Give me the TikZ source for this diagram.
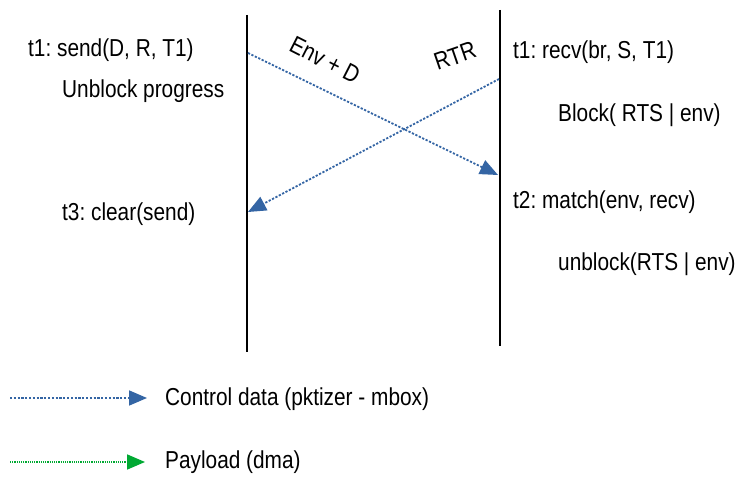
\documentclass[tikz,border=0pt]{standalone}
\usepackage{fontspec}
\setmainfont{Liberation Sans}[FakeStretch=0.85]
\usetikzlibrary{arrows.meta}
\definecolor{ctrlblue}{RGB}{52,101,164}
\definecolor{payloadgreen}{RGB}{0,169,51}
\frenchspacing
\begin{document}
\begin{tikzpicture}[x=1pt,y=-1pt,
  lbl/.style={anchor=base west,inner sep=0pt,font=\fontsize{24.5}{29}\selectfont},
  flowlbl/.style={inner sep=0pt,font=\fontsize{24.5}{29}\selectfont},
  lifeline/.style={line width=2.6pt,black},
  ctrl/.style={ctrlblue,line width=1.8pt,dash pattern=on 2.2pt off 1.6pt,
    -{Triangle[length=18pt,width=15pt]}},
  payload/.style={payloadgreen,line width=1.8pt,dash pattern=on 1.1pt off 1.1pt,
    -{Triangle[length=18pt,width=15pt]}}]
\useasboundingbox (0,0) rectangle (736,481);

% lifelines
\coordinate (sendTop) at (247,15);
\coordinate (sendBot) at (247,352);
\coordinate (recvTop) at (500,10);
\coordinate (recvBot) at (500,346);
\draw[lifeline] (sendTop) -- (sendBot);
\draw[lifeline] (recvTop) -- (recvBot);

% sender side
\node[lbl] (send) at (28,57) {t1: send(D, R, T1)};
\node[lbl] (unblockprog) at (62,98) {Unblock progress};
\node[lbl] (clear) at (62,220) {t3: clear(send)};

% receiver side
\node[lbl] (recv) at (513,59) {t1: recv(br, S, T1)};
\node[lbl] (block) at (558,122) {Block( RTS | env)};
\node[lbl] (match) at (513,208) {t2: match(env, recv)};
\node[lbl] (unblock) at (558,270) {unblock(RTS | env)};

% messages
\coordinate (envStart) at (248,53);
\coordinate (envEnd) at (498,175);
\coordinate (rtrStart) at (499,79);
\coordinate (rtrEnd) at (248,212);
\draw[ctrl] (envStart) -- (envEnd);
\draw[ctrl] (rtrStart) -- (rtrEnd);
\node[flowlbl,rotate=-27] (envlbl) at (325,60) {Env + D};
\node[flowlbl,rotate=19] (rtrlbl) at (455,56) {RTR};

% legend
\coordinate (ctrlA) at (10,398);
\coordinate (ctrlB) at (147,398);
\coordinate (payA) at (10,462);
\coordinate (payB) at (145,462);
\draw[ctrl] (ctrlA) -- (ctrlB);
\draw[payload] (payA) -- (payB);
\node[lbl] (ctrltxt) at (165,405) {Control data (pktizer - mbox)};
\node[lbl] (paytxt) at (165,468) {Payload (dma)};
\end{tikzpicture}
\end{document}
